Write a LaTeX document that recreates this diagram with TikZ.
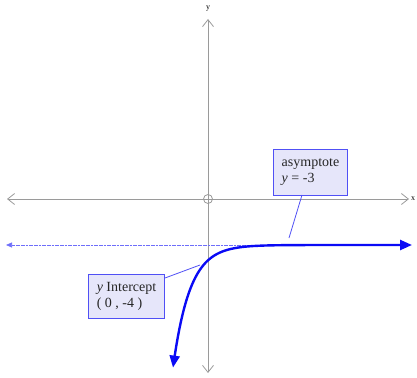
\documentclass[tikz,border=0pt]{standalone}
\usepackage{fontspec}
\setmainfont{Liberation Serif}
\usetikzlibrary{arrows.meta}
\definecolor{axisgray}{HTML}{9A9A9A}
\definecolor{boxfill}{HTML}{E6E6FA}
\definecolor{curveblue}{HTML}{0A0AF5}
\definecolor{boxline}{HTML}{5050F5}
\definecolor{dotblue}{HTML}{6E6EFA}
\tikzset{
  axis/.style={draw=axisgray, line width=0.8pt, {Straight Barb[length=7pt,width=11pt]}-{Straight Barb[length=7pt,width=11pt]}},
  callout/.style={draw=boxline, fill=boxfill, line width=1pt, align=left, inner sep=3pt,
    font=\fontsize{14}{16}\selectfont, text=black!85},
  leader/.style={draw=boxline, line width=0.8pt},
  axlabel/.style={font=\fontsize{8}{9}\selectfont, inner sep=1pt}
}
\begin{document}
\begin{tikzpicture}[x=1pt,y=-1pt]
\useasboundingbox (0,0) rectangle (417,377);
% axes
\coordinate (xl) at (7,199);
\coordinate (xr) at (409,199);
\coordinate (yt) at (208,19);
\coordinate (yb) at (208,373);
\draw[axis] (xl) -- (xr);
\draw[axis] (yb) -- (yt);
\node[axlabel] (xlab) at (413,199) {x};
\node[axlabel] (ylab) at (208,9) {y};
\node[draw=axisgray, line width=0.8pt, circle, minimum size=9pt, inner sep=0pt] (o) at (208,199) {};
% asymptote
\coordinate (al) at (6,245);
\coordinate (ar) at (405,245);
\draw[dotblue, line width=0.7pt, dash pattern=on 2pt off 0.6pt, -{Triangle[length=6pt,width=5pt]}] (ar) -- (al);
% curve
\draw[curveblue, line width=2.4pt, {Triangle[length=12pt,width=10pt]}-{Triangle[length=12pt,width=10pt]}]
  plot[domain=173:400, samples=120, smooth] (\x, {245+15.33*exp(-0.0594*(\x-208))}) -- (412,245);
% callouts
\node[callout, anchor=north west, minimum width=74pt, minimum height=46pt] (asy) at (273,149)
  {asymptote\\\textit{y} = -3};
\node[callout, anchor=north west, minimum width=76pt, minimum height=44pt] (yint) at (88,274)
  {\textit{y} Intercept\\( 0 , -4 )};
\coordinate (asyend) at (289,238);
\coordinate (yintend) at (200,265);
\draw[leader] (302,195) -- (asyend);
\draw[leader] (yint.north east) ++(0,4) -- (yintend);
\end{tikzpicture}
\end{document}
